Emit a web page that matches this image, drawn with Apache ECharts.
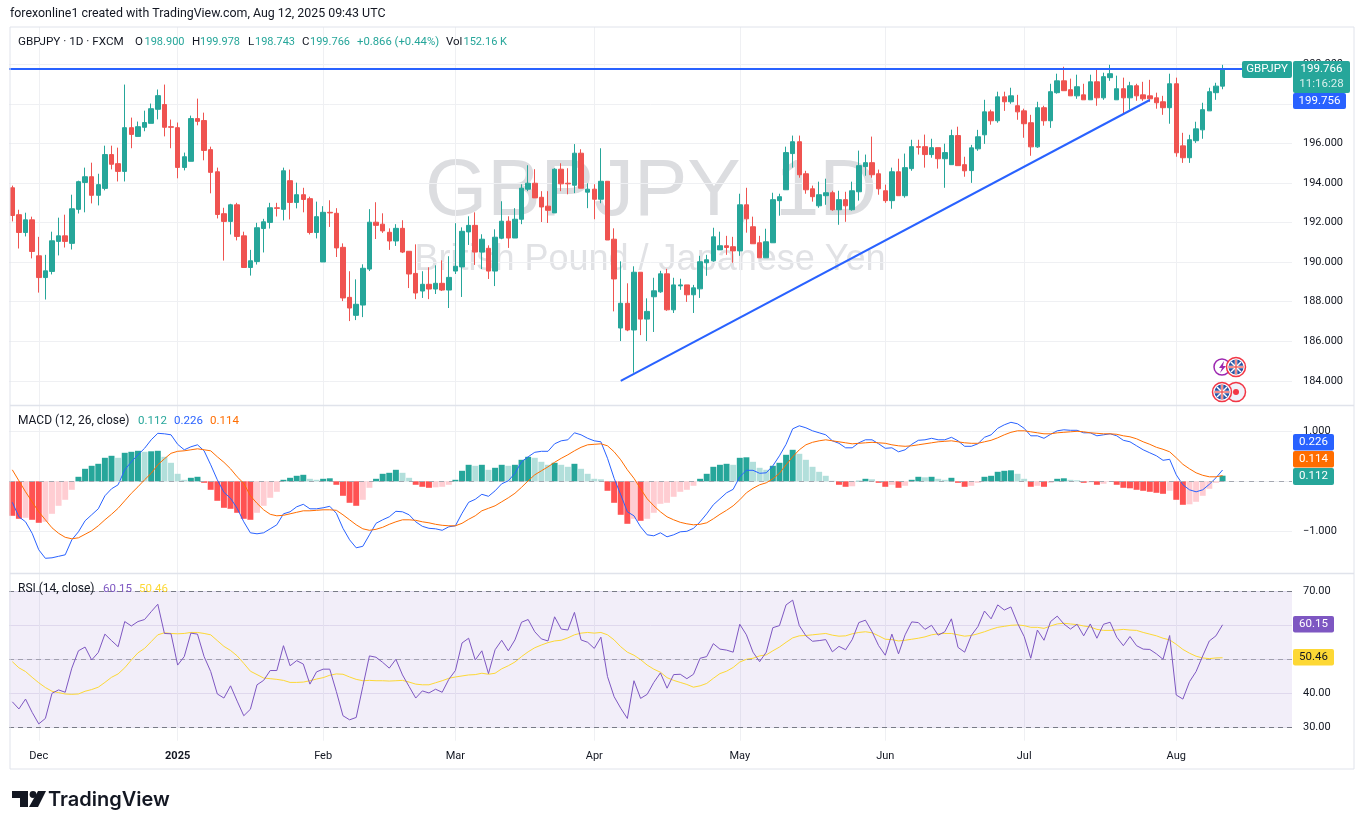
<!DOCTYPE html>
<html>
<head>
<meta charset="utf-8">
<title>GBPJPY 1D</title>
<script src="https://cdn.jsdelivr.net/npm/echarts@6/dist/echarts.min.js"></script>
<style>
  html, body { margin: 0; padding: 0; background: #fff; }
  #main { width: 1364px; height: 829px; }
</style>
</head>
<body>
<div id="main"></div>
<script>
// price candles, one value per trading day
const opens = [
  193.76,192.40,191.50,192.14,190.32,189.22,189.53,191.05,191.33,190.95,
  192.67,194.03,194.32,193.38,193.73,195.44,194.98,194.59,196.80,196.36,
  196.82,197.02,197.73,197.97,196.85,196.80,194.79,195.10,197.26,197.16,
  195.69,194.57,192.45,192.06,192.90,191.33,189.73,190.03,191.70,192.01,
  192.75,192.67,194.12,193.02,193.41,193.21,191.50,190.01,192.52,192.47,
  190.75,188.22,187.31,187.83,189.65,192.02,191.92,191.51,191.07,191.71,
  190.55,189.43,188.54,188.88,188.64,188.93,188.59,189.55,189.76,191.53,
  191.86,190.51,190.70,189.55,191.21,192.07,191.22,192.17,193.69,193.99,
  193.28,192.83,192.49,194.70,193.99,193.89,195.51,193.54,193.69,193.18,
  194.09,191.16,186.67,187.92,186.57,189.49,187.12,188.25,188.50,189.41,
  187.59,188.80,188.85,188.35,188.65,189.97,190.07,190.62,190.83,190.78,
  190.57,192.90,191.79,190.98,190.22,190.98,193.11,193.66,195.49,196.09,
  194.47,193.71,192.85,193.36,193.51,192.65,193.16,192.65,193.56,194.83,
  195.03,194.47,193.61,193.11,194.57,193.36,194.73,195.84,195.84,195.44,
  195.79,195.23,194.93,196.40,194.93,194.63,195.73,196.44,197.60,197.15,
  198.36,198.11,197.91,197.65,197.05,195.83,197.81,197.15,198.57,199.17,
  198.72,198.41,198.46,198.21,199.12,198.31,199.33,198.21,198.77,198.31,
  198.92,198.46,198.41,198.31,198.11,197.81,199.02,195.88,195.28,196.14,
  196.69,197.65,198.57,198.900
];
const highs = [
  193.87,192.65,192.50,192.30,191.28,190.37,191.54,192.25,192.40,193.41,
  194.12,194.78,195.03,194.47,195.89,195.89,195.79,198.98,197.31,197.11,
  197.66,198.02,198.73,198.98,197.21,197.06,195.54,197.41,198.27,197.56,
  195.84,194.78,192.75,192.95,193.00,191.54,190.62,191.99,192.19,193.00,
  193.00,194.78,194.68,194.02,193.76,193.31,193.06,192.83,193.13,192.73,
  190.95,189.54,189.13,189.89,192.68,193.03,192.47,191.71,191.92,192.12,
  190.55,190.90,189.54,189.74,189.84,190.09,190.30,191.97,191.76,192.32,
  192.52,191.41,190.85,191.66,193.08,192.32,192.73,193.94,194.90,194.70,
  193.59,193.59,194.75,195.00,194.75,195.97,195.71,193.99,193.94,195.76,
  194.09,191.71,190.04,188.93,189.79,189.49,188.17,189.21,189.56,189.66,
  189.21,189.16,188.85,188.85,190.32,190.37,191.74,191.54,191.33,191.28,
  193.46,193.76,192.30,191.33,191.69,193.51,193.46,195.84,196.40,196.40,
  194.62,193.87,194.07,194.22,193.61,193.61,193.56,194.07,195.64,195.44,
  196.35,194.68,193.92,194.78,195.23,195.49,196.19,196.19,196.45,196.24,
  195.79,195.99,196.70,196.85,195.33,195.93,196.69,198.21,197.71,198.62,
  198.62,198.82,198.46,197.76,197.45,198.11,197.91,199.02,199.53,199.88,
  199.28,199.48,199.02,199.48,199.78,199.58,199.98,199.43,199.33,199.12,
  199.02,199.12,199.22,198.57,198.41,199.53,199.33,196.54,196.44,197.10,
  198.06,198.82,199.07,199.978
];
const lows = [
  192.06,190.69,191.30,190.19,188.46,188.11,189.38,190.34,190.74,190.64,
  192.46,192.52,192.97,192.87,193.63,194.69,194.08,194.08,195.76,196.36,
  196.62,197.02,197.22,196.36,195.76,194.24,194.64,195.10,196.92,195.15,
  193.48,192.21,190.08,191.40,191.10,189.73,189.32,189.88,190.49,191.70,
  192.31,192.11,192.16,192.72,192.52,191.40,191.20,190.01,191.78,190.26,
  188.03,187.02,187.07,187.22,189.55,191.17,191.48,190.62,190.82,190.46,
  188.69,188.13,188.19,188.13,188.39,188.54,187.68,189.40,188.24,190.87,
  189.86,189.65,189.15,188.79,191.16,190.72,191.22,191.92,193.59,193.25,
  192.03,191.98,192.49,193.59,193.43,193.49,193.74,192.73,192.17,192.98,
  191.12,187.51,186.01,186.51,184.41,186.31,186.01,186.47,188.45,187.54,
  187.43,188.60,187.99,187.43,188.19,189.31,190.02,190.62,190.37,189.97,
  190.32,191.49,190.93,190.22,190.22,190.98,192.35,193.66,194.78,194.27,
  193.46,193.06,192.75,192.90,192.60,191.89,192.04,192.60,193.11,194.37,
  194.27,193.41,193.00,192.70,193.36,193.26,194.62,195.44,194.78,195.28,
  194.73,193.76,194.93,194.88,194.32,194.01,195.63,195.98,196.95,197.05,
  197.65,198.01,197.20,196.29,195.38,195.78,196.90,196.79,198.52,198.67,
  198.41,198.26,198.21,198.21,197.91,198.21,199.17,198.21,197.50,197.71,
  198.16,198.16,198.11,197.76,197.45,197.00,195.33,195.02,195.02,196.03,
  196.24,197.65,198.21,198.743
];
const closes = [
  192.36,191.50,192.14,190.54,189.22,189.56,191.08,191.33,191.05,192.70,
  194.07,194.32,193.38,193.92,195.44,194.95,194.59,196.80,196.46,196.85,
  197.06,197.76,198.42,196.82,196.82,194.79,195.33,197.26,197.12,195.65,
  194.54,192.41,192.06,192.90,191.30,189.73,190.07,191.74,192.04,192.75,
  192.72,194.62,193.02,193.41,193.17,191.50,192.30,192.52,192.49,190.72,
  188.19,187.68,187.87,189.69,192.02,191.86,191.58,191.07,191.71,190.51,
  189.40,188.44,188.88,188.64,188.93,188.59,189.23,189.79,191.56,191.86,
  190.51,191.16,189.55,191.26,192.07,191.22,192.17,193.74,193.99,193.25,
  192.79,192.62,194.70,193.96,193.96,195.51,193.74,193.69,193.18,194.09,
  191.12,189.15,187.92,186.57,189.49,187.12,187.51,188.55,189.41,187.59,
  188.85,188.85,188.35,188.70,190.02,190.12,191.28,190.83,190.74,190.57,
  192.90,192.19,190.93,190.22,191.03,193.16,193.31,195.54,196.09,194.42,
  193.66,193.31,193.41,193.51,192.65,193.16,192.85,193.61,194.88,195.03,
  194.42,193.71,193.11,194.57,193.36,194.78,195.84,195.81,195.44,195.79,
  195.23,195.54,196.40,194.88,194.62,195.78,196.34,197.60,197.15,198.36,
  198.11,198.41,197.60,197.00,195.83,197.81,197.15,198.62,199.17,198.67,
  198.41,198.87,198.21,199.12,198.31,199.38,199.53,198.77,198.31,198.92,
  198.41,198.26,198.26,198.06,197.81,199.02,195.53,195.28,196.19,196.74,
  197.71,198.62,198.90,199.766
];

// MACD pane
const macdHist = [
  -0.69,-0.75,-0.73,-0.77,-0.83,-0.81,-0.65,-0.49,-0.37,-0.17,
  0.09,0.25,0.31,0.35,0.47,0.51,0.47,0.57,0.59,0.61,
  0.59,0.60,0.61,0.49,0.37,0.15,0.03,0.07,0.09,-0.03,
  -0.17,-0.39,-0.53,-0.55,-0.63,-0.75,-0.77,-0.63,-0.49,-0.33,
  -0.21,0.03,0.07,0.11,0.13,0.05,0.03,0.05,0.06,-0.07,
  -0.29,-0.43,-0.49,-0.37,-0.13,0.05,0.15,0.17,0.23,0.17,
  0.07,-0.07,-0.11,-0.13,-0.12,-0.11,-0.07,0.03,0.21,0.33,
  0.31,0.33,0.23,0.27,0.33,0.31,0.33,0.43,0.49,0.47,
  0.39,0.33,0.37,0.33,0.29,0.35,0.25,0.15,0.05,0.04,
  -0.19,-0.43,-0.67,-0.85,-0.75,-0.79,-0.75,-0.63,-0.45,-0.43,
  -0.31,-0.21,-0.17,-0.09,0.05,0.15,0.29,0.33,0.35,0.33,
  0.47,0.48,0.39,0.27,0.23,0.31,0.37,0.53,0.63,0.55,
  0.43,0.29,0.19,0.11,0.01,-0.07,-0.11,-0.10,0.01,0.05,
  0.04,-0.03,-0.11,-0.07,-0.13,-0.09,0.03,0.09,0.08,0.09,
  0.05,0.03,0.07,-0.03,-0.11,-0.09,-0.03,0.09,0.11,0.19,
  0.21,0.22,0.15,0.05,-0.11,-0.09,-0.11,-0.03,0.05,0.06,
  0.03,0.02,-0.03,-0.02,-0.07,-0.05,-0.01,-0.07,-0.13,-0.14,
  -0.17,-0.19,-0.21,-0.23,-0.25,-0.19,-0.37,-0.47,-0.46,-0.41,
  -0.29,-0.15,-0.03,0.112
];
const macdLine = [
  -0.42,-0.71,-0.81,-1.04,-1.37,-1.54,-1.53,-1.50,-1.47,-1.17,
  -1.01,-0.79,-0.67,-0.55,-0.29,-0.15,-0.07,0.23,0.39,0.53,
  0.66,0.83,0.96,0.95,0.93,0.74,0.63,0.69,0.73,0.61,
  0.33,0.03,-0.22,-0.34,-0.54,-0.81,-1.03,-1.05,-1.03,-0.95,
  -0.87,-0.65,-0.61,-0.51,-0.46,-0.55,-0.55,-0.53,-0.50,-0.64,
  -0.94,-1.17,-1.33,-1.30,-1.07,-0.84,-0.77,-0.71,-0.60,-0.61,
  -0.67,-0.81,-0.90,-0.94,-0.95,-0.98,-0.91,-0.89,-0.64,-0.42,
  -0.36,-0.26,-0.30,-0.19,-0.05,0.01,0.16,0.39,0.49,0.58,
  0.60,0.60,0.75,0.81,0.83,0.97,0.93,0.86,0.81,0.79,
  0.46,0.06,-0.27,-0.61,-0.69,-0.91,-1.07,-1.09,-1.03,-1.11,
  -1.07,-1.01,-1.00,-0.94,-0.81,-0.65,-0.47,-0.35,-0.23,-0.16,
  0.09,0.22,0.22,0.16,0.17,0.31,0.51,0.74,1.05,1.11,
  1.07,1.01,0.97,0.93,0.81,0.76,0.67,0.67,0.77,0.83,
  0.83,0.75,0.66,0.67,0.59,0.63,0.74,0.82,0.83,0.86,
  0.83,0.83,0.88,0.81,0.70,0.70,0.75,0.88,0.93,1.06,
  1.13,1.18,1.15,1.06,0.91,0.91,0.86,0.94,1.01,1.03,
  1.02,1.02,0.97,0.97,0.91,0.93,0.95,0.91,0.82,0.79,
  0.71,0.63,0.57,0.51,0.42,0.44,0.13,-0.07,-0.17,-0.21,
  -0.17,-0.06,0.07,0.226
];
const macdSignal = [
  0.23,0.01,-0.21,-0.41,-0.61,-0.77,-0.93,-1.04,-1.12,-1.15,
  -1.13,-1.06,-0.99,-0.89,-0.77,-0.66,-0.54,-0.39,-0.24,-0.11,
  0.03,0.16,0.33,0.45,0.56,0.60,0.61,0.63,0.65,0.63,
  0.61,0.49,0.38,0.25,0.09,-0.04,-0.29,-0.44,-0.57,-0.66,
  -0.69,-0.68,-0.65,-0.62,-0.59,-0.59,-0.58,-0.57,-0.57,-0.58,
  -0.67,-0.77,-0.87,-0.95,-0.98,-0.96,-0.92,-0.86,-0.81,-0.77,
  -0.77,-0.78,-0.81,-0.83,-0.86,-0.88,-0.89,-0.89,-0.84,-0.76,
  -0.69,-0.59,-0.54,-0.49,-0.41,-0.33,-0.24,-0.12,0.01,0.13,
  0.21,0.29,0.38,0.46,0.53,0.61,0.68,0.73,0.74,0.75,
  0.71,0.59,0.43,0.23,0.06,-0.15,-0.35,-0.49,-0.61,-0.71,
  -0.77,-0.82,-0.85,-0.87,-0.86,-0.83,-0.75,-0.66,-0.58,-0.49,
  -0.37,-0.23,-0.14,-0.07,-0.03,0.05,0.16,0.33,0.49,0.63,
  0.73,0.78,0.81,0.83,0.81,0.79,0.77,0.75,0.76,0.77,
  0.78,0.77,0.76,0.73,0.71,0.70,0.71,0.73,0.75,0.77,
  0.79,0.80,0.81,0.79,0.77,0.76,0.76,0.79,0.82,0.87,
  0.93,0.98,1.01,1.01,0.99,0.97,0.95,0.95,0.97,0.98,
  0.99,1.00,0.99,0.97,0.96,0.95,0.95,0.94,0.91,0.89,
  0.85,0.79,0.74,0.68,0.64,0.59,0.47,0.34,0.25,0.17,
  0.12,0.09,0.09,0.114
];

// RSI pane
const rsiLine = [
  37.5,35.4,38.3,34.4,31.0,32.6,40.0,41.0,40.3,47.4,
  52.5,53.6,49.8,52.0,57.4,55.5,53.7,61.1,59.8,61.1,
  61.7,64.0,66.2,57.6,57.5,48.3,50.8,57.7,57.4,50.8,
  46.4,39.8,38.6,42.2,37.7,33.4,35.3,42.5,43.8,46.7,
  46.7,54.0,48.1,49.6,48.6,42.7,46.3,47.1,47.1,40.5,
  33.4,32.2,32.9,42.0,51.0,50.6,49.1,47.4,50.0,45.4,
  42.0,38.6,40.7,40.1,41.2,40.3,44.1,46.7,54.8,56.2,
  49.8,52.5,45.8,52.8,55.6,52.5,55.7,60.9,61.7,58.1,
  56.0,55.4,62.5,58.9,58.6,63.8,55.7,55.0,53.2,56.5,
  44.9,39.0,35.6,32.6,43.7,38.5,39.7,43.2,46.0,41.5,
  45.5,45.6,44.3,45.6,50.3,50.8,54.6,53.0,52.7,52.1,
  60.3,57.2,52.1,49.3,52.1,59.3,59.9,66.0,67.4,59.9,
  56.9,55.3,55.5,55.8,52.2,53.8,52.8,55.8,60.8,61.5,
  58.1,54.0,51.2,57.4,51.6,57.2,61.0,60.8,58.8,60.0,
  57.1,58.1,61.9,53.5,52.1,57.0,59.6,64.2,61.9,66.0,
  64.5,65.4,60.6,56.7,50.3,58.6,55.6,61.1,62.7,60.4,
  58.9,60.3,56.9,60.4,56.2,60.3,60.9,56.5,54.0,56.7,
  54.0,53.0,52.9,51.6,50.0,57.0,39.5,38.3,43.4,46.4,
  51.0,55.4,56.9,60.15
];
const rsiMa = [
  49.3,47.5,46.4,44.7,43.1,41.7,40.6,40.2,39.8,39.7,
  39.8,40.6,41.1,41.8,43.2,44.7,45.7,47.5,49.8,51.9,
  53.2,55.2,57.2,57.8,57.6,57.5,57.6,57.9,57.9,57.6,
  57.2,55.5,53.8,52.6,51.0,48.8,46.5,45.5,44.5,44.3,
  44.1,43.8,43.2,43.2,43.3,43.7,44.2,44.6,45.3,45.7,
  45.6,44.8,44.1,43.7,43.8,43.7,43.7,43.6,43.7,43.8,
  43.3,42.7,42.5,42.5,43.1,43.7,44.4,44.8,45.1,45.4,
  45.5,45.9,45.6,45.9,47.2,48.1,49.2,50.8,52.2,53.4,
  54.2,54.9,55.4,55.6,56.3,57.2,57.7,57.9,57.7,57.9,
  57.2,55.7,53.7,52.1,51.2,49.9,48.3,47.1,46.2,44.6,
  43.8,43.2,42.6,41.8,42.2,42.9,44.4,45.8,46.5,47.6,
  49.2,50.0,50.3,51.0,51.3,52.5,53.6,55.0,56.3,56.9,
  57.0,57.2,57.4,57.6,57.1,56.8,56.9,57.5,57.9,58.1,
  57.8,56.9,55.9,55.8,55.4,55.6,55.9,56.2,56.6,57.2,
  57.5,57.6,57.6,57.2,56.8,57.0,57.5,58.1,58.8,59.4,
  59.7,60.0,60.1,59.9,59.4,59.4,59.1,59.8,60.4,60.6,
  60.4,60.2,59.8,59.5,58.8,58.5,58.5,58.6,58.8,58.6,
  58.5,57.9,57.4,56.9,56.2,55.7,54.4,52.9,51.8,50.9,
  50.4,50.2,50.4,50.46
];

// tick labels on the time axis, keyed by first trading day of the month
const monthTicks = {
  '2024-12-02': 'Dec', '2025-01-02': '2025', '2025-02-03': 'Feb', '2025-03-03': 'Mar', '2025-04-01': 'Apr',
  '2025-05-01': 'May', '2025-06-02': 'Jun', '2025-07-01': 'Jul', '2025-08-01': 'Aug'
};
const closedDays = ['2024-12-25', '2025-01-01'];
const resistanceLevel = 199.756;
const trendStart = [92, 184.0];
const trendEnd = [172, 198.2];

// weekdays from Nov 26 2024, plus the empty bars right of the last candle
const categories = [];
for (let t = Date.UTC(2024, 10, 26); categories.length < 194; t += 86400000) {
  const d = new Date(t), s = d.toISOString().slice(0, 10);
  if (d.getUTCDay() % 6 !== 0 && !closedDays.includes(s)) categories.push(s);
}

const UP = '#26a69a', DOWN = '#ef5350', BLUE = '#2962ff', ORANGE = '#ff6d00';
const FONT = 'Roboto, "Liberation Sans", sans-serif';
const GRID_LINE = '#eff0f3', INK = '#131722';

const isTick = (i, v) => v in monthTicks;

function txt(x, y, text, fill, size, extra) {
  return { type: 'text', z: 50, silent: true, x: x, y: y,
    style: Object.assign({ text: text, fill: fill || INK, font: (size || 12) + 'px ' + FONT, verticalAlign: 'middle' }, extra) };
}
function box(x, y, w, h, fill) {
  return { type: 'rect', z: 40, silent: true, shape: { x: x, y: y, width: w, height: h, r: 2 }, style: { fill: fill } };
}
function ln(x1, y1, x2, y2, stroke, width, z) {
  return { type: 'line', z: z || 45, silent: true, shape: { x1: x1, y1: y1, x2: x2, y2: y2 }, style: { stroke: stroke, lineWidth: width } };
}
function badge(x, y, w, h, fill, label, color) {
  return [box(x, y, w, h, fill), txt(x + w / 2, y + h / 2, label, color || '#fff', 11.5, { align: 'center' })];
}
function circle(cx, cy, r, fill, stroke, width, z) {
  return { type: 'circle', z: z || 45, silent: true, shape: { cx: cx, cy: cy, r: r }, style: { fill: fill, stroke: stroke, lineWidth: width } };
}
function ukFlag(cx, cy) {
  const r = 7.5;
  return [
    circle(cx, cy, 9.5, '#fff', '#f23645', 1.5, 46),
    circle(cx, cy, r, '#2a55a5', null, 0, 46),
    ln(cx - 5, cy - 5, cx + 5, cy + 5, '#fff', 1.5, 47), ln(cx - 5, cy + 5, cx + 5, cy - 5, '#fff', 1.5, 47),
    ln(cx - r, cy, cx + r, cy, '#fff', 2.5, 47), ln(cx, cy - r, cx, cy + r, '#fff', 2.5, 47),
    ln(cx - r, cy, cx + r, cy, '#ef5350', 1.3, 48), ln(cx, cy - r, cx, cy + r, '#ef5350', 1.3, 48)
  ];
}

const graphics = [
  // page frame and pane separators
  { type: 'rect', z: 30, silent: true, shape: { x: 10, y: 27, width: 1344, height: 742 }, style: { fill: 'none', stroke: '#e0e3eb', lineWidth: 1 } },
  ln(10, 405.5, 1354, 405.5, '#e0e3eb', 1.5, 30),
  ln(10, 573.5, 1354, 573.5, '#e0e3eb', 1.5, 30),

  // watermark
  { type: 'text', z: 0, silent: true, x: 651, y: 193, style: { text: 'GBPJPY, 1D', fill: '#dcdde0', font: '80px "Liberation Sans"', align: 'center', verticalAlign: 'middle' } },
  { type: 'text', z: 0, silent: true, x: 650, y: 260, style: { text: 'British Pound / Japanese Yen', fill: '#e1e2e5', font: '36px "Liberation Sans"', align: 'center', verticalAlign: 'middle' } },

  txt(10, 14, 'forexonline1 created with TradingView.com, Aug 12, 2025 09:43 UTC', INK, 12.4),

  // symbol legend
  txt(18, 42, 'GBPJPY · 1D · FXCM', INK, 11.7),
  txt(135, 42, 'O', INK, 11.5), txt(144.5, 42, '198.900', UP, 11),
  txt(192, 42, 'H', INK, 11.5), txt(200, 42, '199.978', UP, 11),
  txt(248, 42, 'L', INK, 11.5), txt(255, 42, '198.743', UP, 11),
  txt(302, 42, 'C', INK, 11.5), txt(310, 42, '199.766', UP, 11),
  txt(357, 42, '+0.866 (+0.44%)', UP, 11.3),
  txt(446, 42, 'Vol', INK, 11.5), txt(463.5, 42, '152.16 K', UP, 11),

  // indicator legends
  txt(18, 421, 'MACD (12, 26, close)', INK, 12),
  txt(138, 421, '0.112', UP, 11.5), txt(174, 421, '0.226', BLUE, 11.5), txt(210, 421, '0.114', ORANGE, 11.5),
  txt(18, 589, 'RSI (14, close)', INK, 12),
  txt(103, 589, '60.15', '#7e57c2', 11.5), txt(139, 589, '50.46', '#fdd835', 11.5),

  // price badges on the right
  ...badge(1242, 61, 50, 17, UP, 'GBPJPY'),
  box(1293, 61, 57, 32, UP),
  txt(1321.5, 69.5, '199.766', '#fff', 11.5, { align: 'center' }),
  txt(1321.5, 84, '11:16:28', '#d8efec', 11.5, { align: 'center' }),
  ...badge(1293, 93, 53, 16, BLUE, '199.756'),
  ...badge(1293, 434, 41, 16.5, BLUE, '0.226'),
  ...badge(1293, 451, 41, 16.5, ORANGE, '0.114'),
  ...badge(1293, 468, 41, 17, UP, '0.112'),
  ...badge(1293, 616, 41, 16.5, '#7e57c2', '60.15'),
  ...badge(1293, 649, 41, 16.5, '#fdd835', '50.46', INK),

  // event icons
  circle(1222, 367, 8, '#fff', '#9c27b0', 1.5),
  { type: 'polygon', z: 46, silent: true, shape: { points: [[1224, 361], [1219, 368], [1222, 368], [1220, 373], [1226, 366], [1223, 366]] }, style: { fill: '#9c27b0' } },
  ...ukFlag(1236, 367),
  circle(1236, 392, 9.5, '#f0f3fa', '#f23645', 1.5),
  circle(1236, 392, 3, '#f23645', null, 0, 46),
  ...ukFlag(1222, 392),

  // TradingView logo
  { type: 'polygon', z: 50, silent: true, shape: { points: [[12, 791], [28, 791], [28, 807], [20, 807], [20, 798], [12, 798]] }, style: { fill: INK } },
  circle(33, 794.5, 3.4, INK, null, 0, 50),
  { type: 'polygon', z: 50, silent: true, shape: { points: [[38, 791], [46, 791], [38, 807], [29, 807]] }, style: { fill: INK } },
  { type: 'text', z: 50, silent: true, x: 48, y: 799.5, style: { text: 'TradingView', fill: INK, font: '600 20px Inter, Roboto, sans-serif', verticalAlign: 'middle' } }
];

function hiddenX(gridIndex) {
  return { type: 'category', gridIndex: gridIndex, data: categories, show: false };
}

var myChart = echarts.init(document.getElementById('main'));
var option = {
  animation: false,
  backgroundColor: '#fff',
  textStyle: { fontFamily: FONT },
  grid: [
    { left: 9, width: 1283, top: 27, height: 713.7 },
    { left: 9, width: 1283, top: 64.4, height: 316.4 },
    { left: 9, width: 1283, top: 381.3, height: 200 },
    { left: 9, width: 1283, top: 591.3, height: 136 }
  ],
  xAxis: [
    {
      type: 'category', gridIndex: 0, data: categories,
      axisLine: { show: false }, axisTick: { show: false },
      axisLabel: {
        interval: isTick, margin: 10, color: INK, fontSize: 11,
        formatter: v => monthTicks[v] === '2025' ? '{b|2025}' : monthTicks[v],
        rich: { b: { fontWeight: 'bold', fontSize: 11, color: INK } }
      },
      splitLine: { show: true, interval: isTick, alignWithLabel: true, lineStyle: { color: GRID_LINE, width: 1 } }
    },
    hiddenX(1), hiddenX(2), hiddenX(3)
  ],
  yAxis: [
    { type: 'value', gridIndex: 0, show: false },
    {
      type: 'value', gridIndex: 1, position: 'right', min: 184, max: 200, interval: 2,
      axisLine: { show: false }, axisTick: { show: false },
      axisLabel: { color: INK, fontSize: 11, margin: 11, padding: [2, 0, 0, 0], formatter: v => v.toFixed(3) },
      splitLine: { lineStyle: { color: GRID_LINE } }
    },
    {
      type: 'value', gridIndex: 2, position: 'right', min: -2, max: 2, interval: 1,
      axisLine: { show: false }, axisTick: { show: false },
      axisLabel: { color: INK, fontSize: 11, margin: 11, padding: [2, 0, 0, 0], showMinLabel: false, showMaxLabel: false,
        formatter: v => (v < 0 ? '\u2212' : '') + Math.abs(v).toFixed(3) },
      splitLine: { showMinLine: false, showMaxLine: false, lineStyle: { color: GRID_LINE } }
    },
    {
      type: 'value', gridIndex: 3, position: 'right', min: 30, max: 70, interval: 10,
      axisLine: { show: false }, axisTick: { show: false },
      axisLabel: { color: INK, fontSize: 11, margin: 11, padding: [2, 0, 0, 0], formatter: v => v.toFixed(2) },
      splitLine: { lineStyle: { color: '#eae7f2' } }
    }
  ],
  series: [
    {
      type: 'candlestick', xAxisIndex: 1, yAxisIndex: 1, barWidth: 5,
      data: closes.map((c, i) => [opens[i], c, lows[i], highs[i]]),
      itemStyle: { color: UP, color0: DOWN, borderColor: UP, borderColor0: DOWN, borderWidth: 1 },
      markLine: {
        silent: true, symbol: 'none', label: { show: false },
        lineStyle: { color: BLUE, width: 2, type: 'solid' },
        data: [
          { yAxis: resistanceLevel },
          [{ coord: trendStart }, { coord: trendEnd }]
        ]
      }
    },
    {
      type: 'bar', xAxisIndex: 2, yAxisIndex: 2, barWidth: '90%',
      data: macdHist,
      itemStyle: {
        color: p => {
          const rising = p.dataIndex > 0 && macdHist[p.dataIndex - 1] < p.value;
          if (p.value >= 0) return rising ? '#26a69a' : '#b2dfdb';
          return rising ? '#ffcdd2' : '#ff5252';
        }
      },
      markLine: {
        silent: true, symbol: 'none', label: { show: false },
        lineStyle: { color: '#a5a8b1', width: 1, type: [5, 5] },
        data: [{ yAxis: 0 }]
      }
    },
    { type: 'line', xAxisIndex: 2, yAxisIndex: 2, data: macdLine, showSymbol: false, lineStyle: { color: BLUE, width: 1 }, z: 4 },
    { type: 'line', xAxisIndex: 2, yAxisIndex: 2, data: macdSignal, showSymbol: false, lineStyle: { color: ORANGE, width: 1 }, z: 5 },
    {
      type: 'line', xAxisIndex: 3, yAxisIndex: 3, data: rsiLine, showSymbol: false, lineStyle: { color: '#7e57c2', width: 1 }, z: 5,
      markArea: { silent: true, itemStyle: { color: 'rgba(126,87,194,0.1)' }, data: [[{ yAxis: 30 }, { yAxis: 70 }]] },
      markLine: {
        silent: true, symbol: 'none', label: { show: false },
        data: [
          { yAxis: 70, lineStyle: { color: '#787b86', width: 1, type: [5, 4] } },
          { yAxis: 50, lineStyle: { color: 'rgba(120,123,134,0.6)', width: 1, type: [5, 4] } },
          { yAxis: 30, lineStyle: { color: '#787b86', width: 1, type: [5, 4] } }
        ]
      }
    },
    { type: 'line', xAxisIndex: 3, yAxisIndex: 3, data: rsiMa, showSymbol: false, lineStyle: { color: '#fdd835', width: 1 }, z: 4 }
  ],
  graphic: graphics
};

option && myChart.setOption(option);
</script>
</body>
</html>
